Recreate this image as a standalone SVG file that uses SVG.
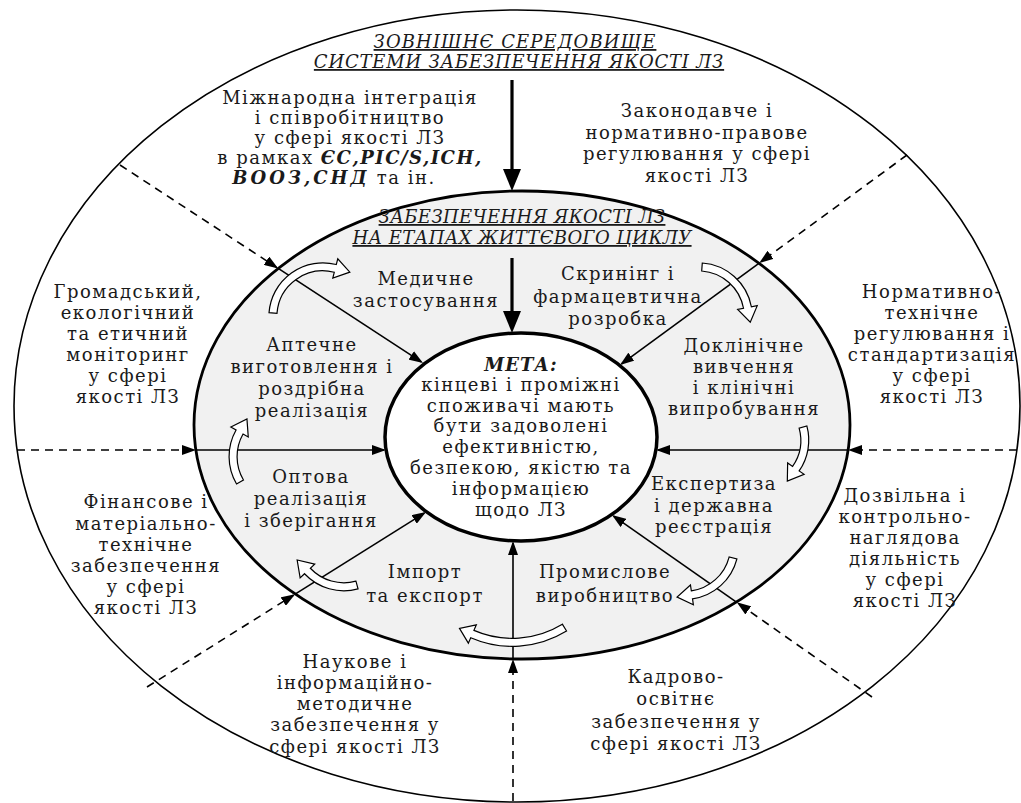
<svg xmlns="http://www.w3.org/2000/svg" width="1021" height="803" viewBox="0 0 1021 803">
<style>
text{font-family:"DejaVu Serif","Liberation Serif",serif;font-size:18px;fill:#1a1a1a;text-anchor:middle;letter-spacing:1.5px}
.it{font-style:italic;text-decoration:underline}
.bi{font-weight:bold;font-style:italic;letter-spacing:1.5px}
.outer{fill:#fff;stroke:#000;stroke-width:1.6}
.mid{fill:#f1f1f1;stroke:#000;stroke-width:2.8}
.inner{fill:#fff;stroke:#000;stroke-width:3.5}
.ln{stroke:#000;stroke-width:1.6;fill:none}
.dash{stroke:#000;stroke-width:1.6;fill:none;stroke-dasharray:8 6}
.thick{stroke:#000;stroke-width:3.2;fill:none}
.ca{fill:#fff;stroke:#000;stroke-width:1.2;stroke-linejoin:miter}
</style>
<defs>
<marker id="ah" viewBox="0 0 14 10" refX="12" refY="5" markerWidth="14" markerHeight="10" markerUnits="userSpaceOnUse" orient="auto"><path d="M0,0 L14,5 L0,10 Z" fill="#000"/></marker>
<marker id="ahb" viewBox="0 0 22 18" refX="12" refY="9" markerWidth="22" markerHeight="18" markerUnits="userSpaceOnUse" orient="auto"><path d="M0,0 L22,9 L0,18 Z" fill="#000"/></marker>
</defs>
<rect width="1021" height="803" fill="#fff"/>
<g id="outer-ring"><ellipse class="outer" cx="517" cy="406" rx="503" ry="396"/></g>
<g id="middle-ring"><ellipse class="mid" cx="522" cy="425" rx="328" ry="234"/></g>
<g id="goal-ellipse"><ellipse class="inner" cx="521" cy="437" rx="136" ry="104"/></g>
<g id="connectors">
<line class="thick" x1="512" y1="80" x2="512" y2="181" marker-end="url(#ahb)"/>
<line class="thick" x1="512" y1="258" x2="512" y2="323" marker-end="url(#ahb)"/>
<line class="dash" x1="17" y1="450" x2="194" y2="450" marker-end="url(#ah)"/>
<line class="ln" x1="196" y1="450" x2="384" y2="450" marker-end="url(#ah)"/>
<line class="dash" x1="1017" y1="450" x2="850" y2="450" marker-end="url(#ah)"/>
<line class="ln" x1="848" y1="450" x2="658" y2="450" marker-end="url(#ah)"/>
<line class="dash" x1="513" y1="801" x2="513" y2="661" marker-end="url(#ah)"/>
<line class="ln" x1="513" y1="659" x2="513" y2="543" marker-end="url(#ah)"/>
<line class="dash" x1="120" y1="165" x2="276.5" y2="267.3" marker-end="url(#ah)"/>
<line class="ln" x1="278.2" y1="268.4" x2="421.3" y2="361.9" marker-end="url(#ah)"/>
<line class="dash" x1="907" y1="155" x2="760.8" y2="261.9" marker-end="url(#ah)"/>
<line class="ln" x1="759.2" y1="263.1" x2="621.6" y2="363.8" marker-end="url(#ah)"/>
<line class="dash" x1="147" y1="687" x2="293.4" y2="595.2" marker-end="url(#ah)"/>
<line class="ln" x1="295.1" y1="594.1" x2="424.3" y2="513.1" marker-end="url(#ah)"/>
<line class="dash" x1="872" y1="697" x2="738.4" y2="603.5" marker-end="url(#ah)"/>
<line class="ln" x1="736.8" y1="602.4" x2="613.6" y2="516.1" marker-end="url(#ah)"/>
</g>
<g id="cycle-arrows">
<path class="ca" transform="translate(322.85,316.84) rotate(-15.6)" d="M-50.74,-18.47 A54,54 0 0 1 27,-46.77 L30,-51.96 L38,-35.8 L20,-34.64 L23,-39.84 A46,46 0 0 0 -43.23,-15.73 Z"/>
<path class="ca" transform="translate(698.33,316.87) rotate(49.2)" d="M-38.18,-38.18 A54,54 0 0 1 27,-46.77 L30,-51.96 L38,-35.8 L20,-34.64 L23,-39.84 A46,46 0 0 0 -32.53,-32.53 Z"/>
<path class="ca" transform="translate(754.76,440.19) rotate(94.7)" d="M-18.47,-50.74 A54,54 0 0 1 27,-46.77 L30,-51.96 L38,-35.8 L20,-34.64 L23,-39.84 A46,46 0 0 0 -15.73,-43.23 Z"/>
<path class="ca" transform="translate(684.61,545.43) rotate(141.6)" d="M-32.50,-43.12 A54,54 0 0 1 27,-46.77 L30,-51.96 L38,-35.8 L20,-34.64 L23,-39.84 A46,46 0 0 0 -27.68,-36.74 Z"/>
<path class="ca" transform="translate(512.2,542.3) rotate(180)" d="M-54.34,-88.67 A104,104 0 0 1 41.47,-95.38 L43.86,-100.88 L52.71,-86.13 L35.88,-82.54 L38.28,-88.04 A96,96 0 0 0 -50.16,-81.85 Z"/>
<path class="ca" transform="translate(343.88,536.75) rotate(-163.2)" d="M-28.61,-45.79 A54,54 0 0 1 27,-46.77 L30,-51.96 L38,-35.8 L20,-34.64 L23,-39.84 A46,46 0 0 0 -24.38,-39.01 Z"/>
<path class="ca" transform="translate(283.08,456.62) rotate(-90.5)" d="M-27,-46.77 A54,54 0 0 1 27,-46.77 L30,-51.96 L38,-35.8 L20,-34.64 L23,-39.84 A46,46 0 0 0 -23,-39.84 Z"/>
</g>
<g id="title-outer">
<text class="it" x="515" y="48" style="letter-spacing:1.1px">ЗОВНІШНЄ СЕРЕДОВИЩЕ</text>
<text class="it" x="519" y="68" style="letter-spacing:0.8px">СИСТЕМИ ЗАБЕЗПЕЧЕННЯ ЯКОСТІ ЛЗ</text>
</g>
<g id="international">
<text x="350" y="104">Міжнародна інтеграція</text>
<text x="350" y="124">і співробітництво</text>
<text x="350" y="144">у сфері якості ЛЗ</text>
<text x="350" y="164">в рамках <tspan class="bi">ЄС,PIC/S,ICH,</tspan></text>
<text x="334" y="184"><tspan class="bi" style="letter-spacing:3px">ВООЗ,СНД</tspan> та ін.</text>
</g>
<g id="legislative">
<text x="697" y="117">Законодавче і</text>
<text x="697" y="139">нормативно-правове</text>
<text x="697" y="160">регулювання у сфері</text>
<text x="697" y="182">якості ЛЗ</text>
</g>
<g id="public-monitoring">
<text x="128" y="298">Громадський,</text>
<text x="128" y="319">екологічний</text>
<text x="128" y="340">та етичний</text>
<text x="128" y="361">моніторинг</text>
<text x="128" y="382">у сфері</text>
<text x="128" y="403">якості ЛЗ</text>
</g>
<g id="technical-regulation">
<text x="932" y="298">Нормативно-</text>
<text x="932" y="319">технічне</text>
<text x="932" y="340">регулювання і</text>
<text x="932" y="361">стандартизація</text>
<text x="932" y="382">у сфері</text>
<text x="932" y="403">якості ЛЗ</text>
</g>
<g id="financial">
<text x="146" y="508">Фінансове і</text>
<text x="146" y="530">матеріально-</text>
<text x="146" y="551">технічне</text>
<text x="146" y="572">забезпечення</text>
<text x="146" y="593">у сфері</text>
<text x="146" y="614">якості ЛЗ</text>
</g>
<g id="permit-control">
<text x="905" y="502">Дозвільна і</text>
<text x="905" y="523">контрольно-</text>
<text x="905" y="544">наглядова</text>
<text x="905" y="565">діяльність</text>
<text x="905" y="586">у сфері</text>
<text x="905" y="607">якості ЛЗ</text>
</g>
<g id="scientific">
<text x="355" y="668">Наукове і</text>
<text x="355" y="689">інформаційно-</text>
<text x="355" y="710">методичне</text>
<text x="355" y="731">забезпечення у</text>
<text x="355" y="753">сфері якості ЛЗ</text>
</g>
<g id="personnel">
<text x="676" y="683">Кадрово-</text>
<text x="676" y="705">освітнє</text>
<text x="676" y="728">забезпечення у</text>
<text x="676" y="750">сфері якості ЛЗ</text>
</g>
<g id="title-middle">
<text class="it" x="522" y="223" style="letter-spacing:0.4px">ЗАБЕЗПЕЧЕННЯ ЯКОСТІ ЛЗ</text>
<text class="it" x="522" y="244" style="letter-spacing:0.4px">НА ЕТАПАХ ЖИТТЄВОГО ЦИКЛУ</text>
</g>
<g id="medical-use">
<text x="426" y="285">Медичне</text>
<text x="426" y="307">застосування</text>
</g>
<g id="screening">
<text x="618" y="280">Скринінг і</text>
<text x="618" y="303">фармацевтична</text>
<text x="618" y="325">розробка</text>
</g>
<g id="preclinical">
<text x="744" y="352">Доклінічне</text>
<text x="744" y="373">вивчення</text>
<text x="744" y="394">і клінічні</text>
<text x="744" y="415">випробування</text>
</g>
<g id="expertise">
<text x="714" y="490">Експертиза</text>
<text x="714" y="512">і державна</text>
<text x="714" y="533">реєстрація</text>
</g>
<g id="production">
<text x="605" y="578">Промислове</text>
<text x="605" y="602">виробництво</text>
</g>
<g id="import-export">
<text x="425" y="578">Імпорт</text>
<text x="425" y="602">та експорт</text>
</g>
<g id="wholesale">
<text x="311" y="483">Оптова</text>
<text x="311" y="505">реалізація</text>
<text x="311" y="527">і зберігання</text>
</g>
<g id="pharmacy">
<text x="312" y="351">Аптечне</text>
<text x="312" y="373">виготовлення і</text>
<text x="312" y="395">роздрібна</text>
<text x="312" y="417">реалізація</text>
</g>
<g id="goal">
<text class="bi" x="521" y="371" style="letter-spacing:1px">МЕТА:</text>
<text x="521" y="391">кінцеві і проміжні</text>
<text x="521" y="412">споживачі мають</text>
<text x="521" y="432">бути задоволені</text>
<text x="521" y="453">ефективністю,</text>
<text x="521" y="474">безпекою, якістю та</text>
<text x="521" y="495">інформацією</text>
<text x="521" y="516">щодо ЛЗ</text>
</g>
</svg>
